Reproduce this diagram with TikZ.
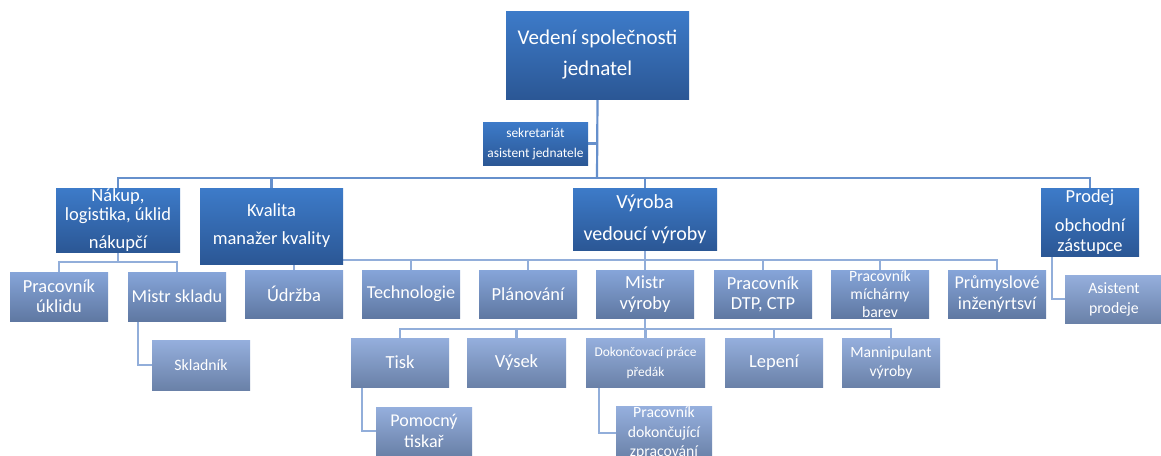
\documentclass[tikz,border=0pt]{standalone}
\usepackage{fontspec}
\setmainfont{Carlito}
\pgfdeclarelayer{bg}
\pgfsetlayers{bg,main}
\definecolor{hiTop}{HTML}{3D7BC9}
\definecolor{hiBot}{HTML}{2B5795}
\definecolor{midTop}{HTML}{86A5D9}
\definecolor{midBot}{HTML}{5F78A2}
\definecolor{lowTop}{HTML}{95AFDD}
\definecolor{lowBot}{HTML}{6A81A8}
\definecolor{lineA}{HTML}{6690CC}
\definecolor{lineB}{HTML}{92AEDA}
\tikzset{
  box/.style={inner sep=0pt, outer sep=0pt, text=white, align=center},
  dim/.style 2 args={minimum width=#1pt, minimum height=#2pt},
  fs/.style 2 args={font=\fontsize{#1}{#2}\selectfont},
  head/.style={box, top color=hiTop, bottom color=hiBot},
  unit/.style={box, top color=midTop, bottom color=midBot},
  sub/.style={box, top color=lowTop, bottom color=lowBot},
  linkA/.style={draw=lineA, line width=2.2pt},
  linkB/.style={draw=lineB, line width=2.2pt},
}
\begin{document}
\begin{tikzpicture}[x=1pt,y=-1pt]
\clip (0,0) rectangle (1161,455);

% management and secretariat
\node[head, dim={183}{88}, fs={21}{31}] (ved) at (597.5,55) {Vedení společnosti\\jednatel};
\node[head, dim={105}{43}, fs={13.4}{20}] (sek) at (535.5,143.5) {sekretariát\\asistent jednatele};

% departments
\node[head, dim={124}{64}, fs={18.5}{19}] (nak) at (118,220) {Nákup,\\logistika, úklid\\[9pt]nákupčí};
\node[head, dim={143}{76}, fs={18.5}{28}] (kva) at (271.5,226) {Kvalita\\manažer kvality};
\node[head, dim={144}{62}, fs={20}{32}] (vyr) at (645,219) {Výroba\\vedoucí výroby};
\node[head, dim={98}{68}, fs={18.4}{20}] (pro) at (1090,222) {Prodej\\[9pt]obchodní\\zástupce};

% purchasing staff
\node[unit, dim={98}{49}, fs={18.4}{20}] (uk) at (59,296.5) {Pracovník\\úklidu};
\node[unit, dim={98}{49}, fs={18.2}{21}] (ms) at (177,296.5) {Mistr skladu};
\node[sub, dim={98}{50}, fs={15.8}{19}] (skl) at (201,365) {Skladník};

% production units
\node[unit, dim={98}{48}, fs={18.5}{21}] (udr) at (294,294) {Údržba};
\node[unit, dim={98}{48}, fs={18.2}{21}] (tec) at (411,294) {Technologie};
\node[unit, dim={98}{48}, fs={18.4}{21}] (pla) at (528,294) {Plánování};
\node[unit, dim={98}{48}, fs={18.5}{21}] (mis) at (645,294) {Mistr\\výroby};
\node[unit, dim={98}{48}, fs={18.4}{20}] (dtp) at (763,294) {Pracovník\\DTP, CTP};
\node[unit, dim={98}{48}, fs={15.7}{18}] (mic) at (880,294) {Pracovník\\míchárny\\barev};
\node[unit, dim={98}{48}, fs={18.1}{21}] (pri) at (997,294) {Průmyslové\\inženýrtsví};

% sales assistant
\node[sub, dim={98}{48}, fs={15.8}{20}] (asi) at (1114,299) {Asistent\\prodeje};

% shop floor
\node[sub, dim={98}{49}, fs={18.5}{21}] (tis) at (400,362.5) {Tisk};
\node[sub, dim={99}{49}, fs={18.5}{21}] (vys) at (516.5,362.5) {Výsek};
\node[sub, dim={119}{49}, fs={13.4}{20}] (dok) at (645.5,362.5) {Dokončovací práce\\předák};
\node[sub, dim={98}{49}, fs={18.5}{21}] (lep) at (774,362.5) {Lepení};
\node[sub, dim={98}{49}, fs={15.6}{19}] (man) at (891,362.5) {Mannipulant\\výroby};
\node[sub, dim={96}{48}, fs={18}{21}] (pom) at (424,431) {Pomocný\\tiskař};
\node[sub, dim={96}{48}, fs={15.7}{19.5}] (pdz) at (664,433) {Pracovník\\dokončující\\zpracování};

% connectors, drawn behind the boxes
\begin{pgfonlayer}{bg}
\fill[white] (0,0) rectangle (1161,455);
\coordinate (jA) at (597,178);
\draw[linkA] (ved.south) -- (jA);
\draw[linkA] (sek.east) -- (sek.east -| ved.south);
\draw[linkA] (nak.north) |- (jA) -| (pro.north);
\draw[linkA] (kva.north) -- (kva.north |- jA);
\draw[linkA] (vyr.north) -- (vyr.north |- jA);

\coordinate (jB) at (118,262);
\draw[linkB] (nak.south) -- (jB);
\draw[linkB] (uk.north) |- (jB) -| (ms.north);
\draw[linkB] ([xshift=10pt]ms.south west) |- (skl.west);

\coordinate (jC) at (645,260);
\draw[linkB] (vyr.south) -- (jC);
\draw[linkB] (udr.north) |- (jC) -| (pri.north);
\foreach \n in {tec,pla,mis,dtp,mic}
  \draw[linkB] (\n.north) -- (\n.north |- jC);
\draw[linkB] ([xshift=11pt]pro.south west) |- (asi.west);

\coordinate (jD) at (645,329);
\draw[linkB] (mis.south) -- (jD);
\draw[linkB] (tis.north) |- (jD) -| (man.north);
\foreach \n in {vys,dok,lep}
  \draw[linkB] (\n.north) -- (\n.north |- jD);
\draw[linkB] ([xshift=11pt]tis.south west) |- (pom.west);
\draw[linkB] ([xshift=13pt]dok.south west) |- (pdz.west);
\end{pgfonlayer}
\end{tikzpicture}
\end{document}
